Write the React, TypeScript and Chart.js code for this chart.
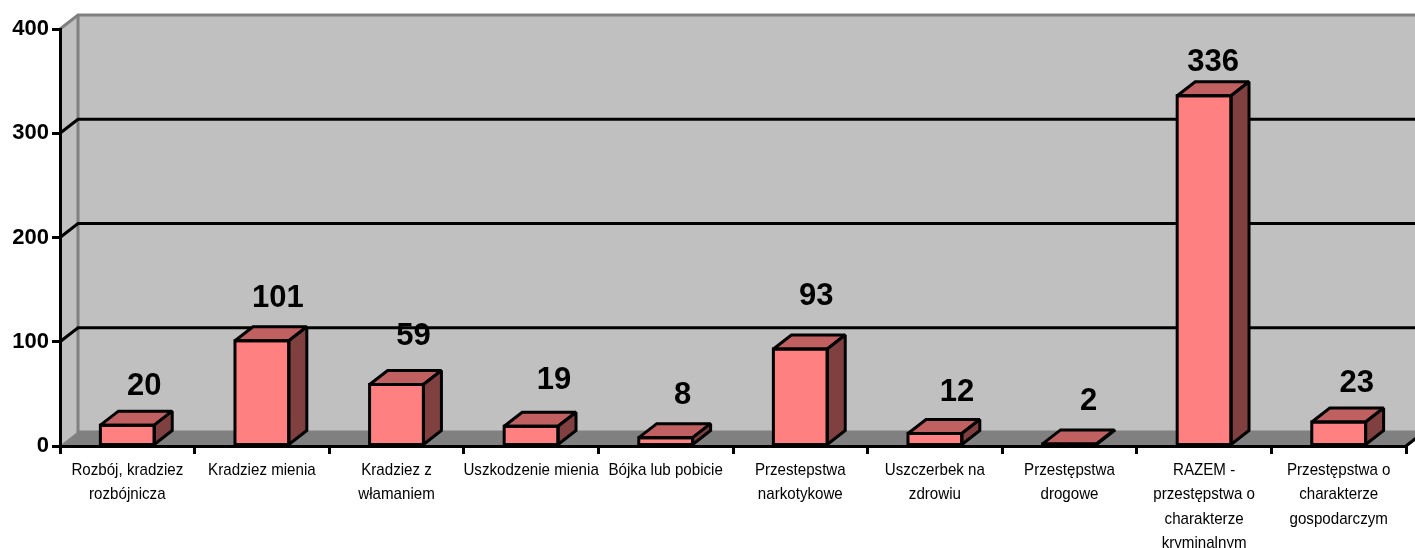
import React, { useEffect, useRef } from "react";
import { Chart, registerables } from "chart.js";

Chart.register(...registerables);

const categories: (string | string[])[] = [
  ["Rozbój, kradziez", "rozbójnicza"],
  "Kradziez mienia",
  ["Kradziez z", "włamaniem"],
  "Uszkodzenie mienia",
  "Bójka lub pobicie",
  ["Przestepstwa", "narkotykowe"],
  ["Uszczerbek na", "zdrowiu"],
  ["Przestępstwa", "drogowe"],
  ["RAZEM -", "przestępstwa o", "charakterze", "kryminalnym"],
  ["Przestępstwa o", "charakterze", "gospodarczym"],
];
const values = [20, 101, 59, 19, 8, 93, 12, 2, 336, 23];
const yTicks = [0, 100, 200, 300, 400];
const labelShiftX = [17, 16, 17, 23, 17, 16, 22, 19, 9, 18];
const labelLift = [39, 42, 48, 46, 42, 53, 41, 42, 33, 39];

const DX = 18;
const DY = 14;
const SQUEEZE = 0.89;
const WALL = "#C0C0C0";
const FLOOR = "#808080";
const FACE = "#FF8080";
const TOP = "#C06060";
const SIDE = "#804040";

function poly(ctx: CanvasRenderingContext2D, pts: number[][], fill: string | null, stroke: string | null, w = 3) {
  ctx.beginPath();
  pts.forEach((p, i) => (i ? ctx.lineTo(p[0], p[1]) : ctx.moveTo(p[0], p[1])));
  ctx.closePath();
  if (fill) {
    ctx.fillStyle = fill;
    ctx.fill();
  }
  if (stroke) {
    ctx.strokeStyle = stroke;
    ctx.lineWidth = w;
    ctx.lineJoin = "miter";
    ctx.miterLimit = 2;
    ctx.stroke();
  }
}

function line(ctx: CanvasRenderingContext2D, pts: number[][], color: string, w = 3) {
  ctx.beginPath();
  pts.forEach((p, i) => (i ? ctx.lineTo(p[0], p[1]) : ctx.moveTo(p[0], p[1])));
  ctx.strokeStyle = color;
  ctx.lineWidth = w;
  ctx.lineCap = "butt";
  ctx.stroke();
}

const box3d = {
  id: "box3d",
  afterLayout(chart: any) {
    // The category labels of the reference are condensed: draw the axis's own labels under a horizontal squeeze.
    const s = chart.scales.x;
    if (s.__squeezed) return;
    s.__squeezed = true;
    const orig = s.drawLabels;
    s._computeLabelArea = () => undefined;
    s.drawLabels = function (area: any) {
      const items = this.getLabelItems(area);
      items.forEach((it: any) => {
        if (!it.__sq) {
          it.options.translation = [it.options.translation[0] / SQUEEZE, it.options.translation[1]];
          it.__sq = true;
        }
      });
      this.ctx.save();
      this.ctx.scale(SQUEEZE, 1);
      orig.call(this, area);
      this.ctx.restore();
    };
  },
  beforeDatasetsDraw(chart: any) {
    const { ctx, chartArea: a, scales } = chart;
    const y0 = scales.y.getPixelForValue(0);
    const yMax = scales.y.getPixelForValue(400);
    const l = a.left;
    const r = a.right;
    ctx.save();
    poly(ctx, [[l + DX, yMax - DY], [r + DX, yMax - DY], [r + DX, y0 - DY], [l + DX, y0 - DY]], WALL, null);
    poly(ctx, [[l, yMax], [l + DX, yMax - DY], [l + DX, y0 - DY], [l, y0]], WALL, null);
    poly(ctx, [[l, y0], [l + DX, y0 - DY], [r + DX, y0 - DY], [r, y0]], FLOOR, null);
    line(ctx, [[l, yMax], [l + DX, yMax - DY], [r + DX, yMax - DY]], FLOOR);
    line(ctx, [[l + DX, yMax - DY], [l + DX, y0 - DY], [r + DX, y0 - DY]], FLOOR);
    line(ctx, [[l, y0], [l + DX, y0 - DY]], FLOOR, 1);
    yTicks.slice(1, -1).forEach((t) => {
      const y = scales.y.getPixelForValue(t);
      line(ctx, [[l, y], [l + DX, y - DY], [r + DX, y - DY]], "#000000");
    });
    ctx.restore();
  },
  afterDatasetsDraw(chart: any) {
    const { ctx, chartArea: a, scales } = chart;
    const y0 = scales.y.getPixelForValue(0);
    ctx.save();
    chart.getDatasetMeta(0).data.forEach((bar: any) => {
      const p = bar.getProps(["x", "y", "base", "width"], true);
      const x1 = p.x - p.width / 2;
      const x2 = p.x + p.width / 2;
      poly(ctx, [[x1, p.y], [x1 + DX, p.y - DY], [x2 + DX, p.y - DY], [x2, p.y]], TOP, "#000000");
      poly(ctx, [[x2, p.y], [x2 + DX, p.y - DY], [x2 + DX, p.base - DY], [x2, p.base]], SIDE, "#000000");
      poly(ctx, [[x1, p.y], [x2, p.y], [x2, p.base], [x1, p.base]], null, "#000000");
    });
    line(ctx, [[a.right, y0], [a.right + DX, y0 - DY]], "#000000");
    ctx.restore();
  },
  afterDraw(chart: any) {
    const { ctx } = chart;
    ctx.save();
    ctx.font = 'bold 31px "Liberation Sans", Arial, sans-serif';
    ctx.fillStyle = "#000000";
    ctx.textAlign = "center";
    ctx.textBaseline = "middle";
    chart.getDatasetMeta(0).data.forEach((bar: any, i: number) => {
      const p = bar.getProps(["x", "y"], true);
      ctx.fillText(String(values[i]), p.x + labelShiftX[i], p.y - labelLift[i]);
    });
    ctx.restore();
  },
};

export default function App() {
  const ref = useRef<HTMLCanvasElement>(null);
  useEffect(() => {
    const chart = new Chart(ref.current as HTMLCanvasElement, {
      type: "bar",
      data: {
        labels: categories as any,
        datasets: [{ data: values, backgroundColor: FACE, borderWidth: 0, barPercentage: 0.4, categoryPercentage: 1 }],
      },
      options: {
        responsive: false,
        animation: false,
        layout: { padding: { top: 29, right: 9, left: 0, bottom: 0 } },
        plugins: { legend: { display: false }, tooltip: { enabled: false }, title: { display: false } },
        scales: {
          x: {
            afterFit(s: any) {
              s.height = 102;
              s.paddingLeft = 0;
              s.paddingRight = 0;
            },
            grid: { z: 1, color: "#000000", lineWidth: 3, drawOnChartArea: false, drawTicks: true, tickLength: 8 },
            border: { z: 1, color: "#000000", width: 3 },
            ticks: {
              z: 1,
              autoSkip: false,
              maxRotation: 0,
              minRotation: 0,
              padding: 4,
              color: "#000000",
              font: { family: '"Liberation Sans", Arial, sans-serif', size: 17, lineHeight: 1.435 },
            },
          },
          y: {
            min: 0,
            max: 400,
            afterFit(s: any) {
              s.width = 60;
              s.paddingTop = 0;
              s.paddingBottom = 0;
            },
            grid: { z: 1, color: "#000000", lineWidth: 3, drawOnChartArea: false, drawTicks: true, tickLength: 8 },
            border: { z: 1, color: "#000000", width: 3 },
            ticks: {
              z: 1,
              stepSize: 100,
              padding: 3,
              color: "#000000",
              font: { family: '"Liberation Sans", Arial, sans-serif', size: 22, weight: "bold" },
            },
          },
        },
      },
      plugins: [box3d],
    } as any);
    return () => chart.destroy();
  }, []);
  return (
    <canvas
      ref={ref}
      width={1415}
      height={548}
      style={{ position: "absolute", left: 0, top: 0, display: "block", width: 1415, height: 548 }}
    />
  );
}
